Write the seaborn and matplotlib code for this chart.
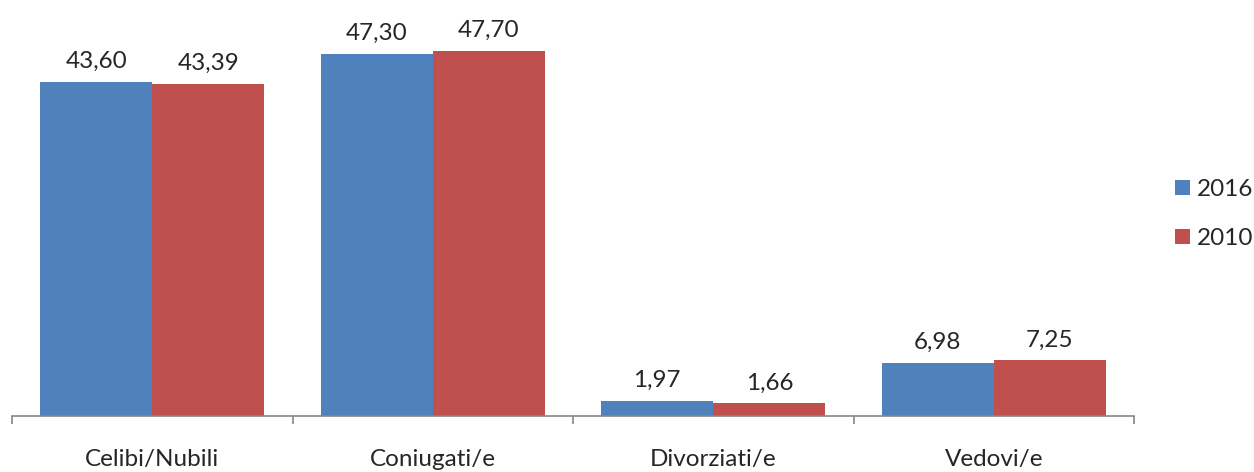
import pandas as pd
import seaborn as sns
import matplotlib.pyplot as plt

categories = ['Celibi/Nubili', 'Coniugati/e', 'Divorziati/e', 'Vedovi/e']
years = ['2016', '2010']
values_2016 = [43.60, 47.30, 1.97, 6.98]
values_2010 = [43.39, 47.70, 1.66, 7.25]

df = pd.DataFrame({
    'categoria': categories * 2,
    'anno': [years[0]] * 4 + [years[1]] * 4,
    'valore': values_2016 + values_2010,
})

sns.set_style('white')
plt.rcParams['font.family'] = ['Lato', 'DejaVu Sans']

fig = plt.figure(figsize=(12.54, 4.72), dpi=100)
ax = fig.add_axes([12 / 1254, 56 / 472, 1122 / 1254, 383 / 472])

palette = {'2016': '#4F81BD', '2010': '#C0504D'}
sns.barplot(data=df, x='categoria', y='valore', hue='anno', palette=palette,
            width=0.8, saturation=1, linewidth=0, ax=ax, legend=True)

for cont in ax.containers:
    labs = [f"{b.get_height():.2f}".replace('.', ',') for b in cont]
    ax.bar_label(cont, labels=labs, padding=7, fontsize=17.5, clip_on=False)

ax.set_ylim(0, 50)
ax.set_xlim(-0.5, 3.5)
ax.set_yticks([])
ax.set_xlabel('')
ax.set_ylabel('')
for s in ['top', 'right', 'left']:
    ax.spines[s].set_visible(False)
ax.spines['bottom'].set_color('#868686')
ax.spines['bottom'].set_linewidth(1.2)

ax.set_xticks([-0.5, 0.5, 1.5, 2.5, 3.5], minor=True)
ax.tick_params(axis='x', which='minor', length=6, color='#868686', width=1.2, bottom=True)
ax.tick_params(axis='x', which='major', length=0, pad=24, labelsize=17.5)

ax.legend(loc='center left', bbox_to_anchor=(1175 / 1254, 258 / 472),
          bbox_transform=fig.transFigure, frameon=False, borderaxespad=0,
          borderpad=0, fontsize=17.5, handlelength=0.6, handleheight=0.6,
          handletextpad=0.3, labelspacing=1.15)

plt.savefig('out.png', dpi=100)
